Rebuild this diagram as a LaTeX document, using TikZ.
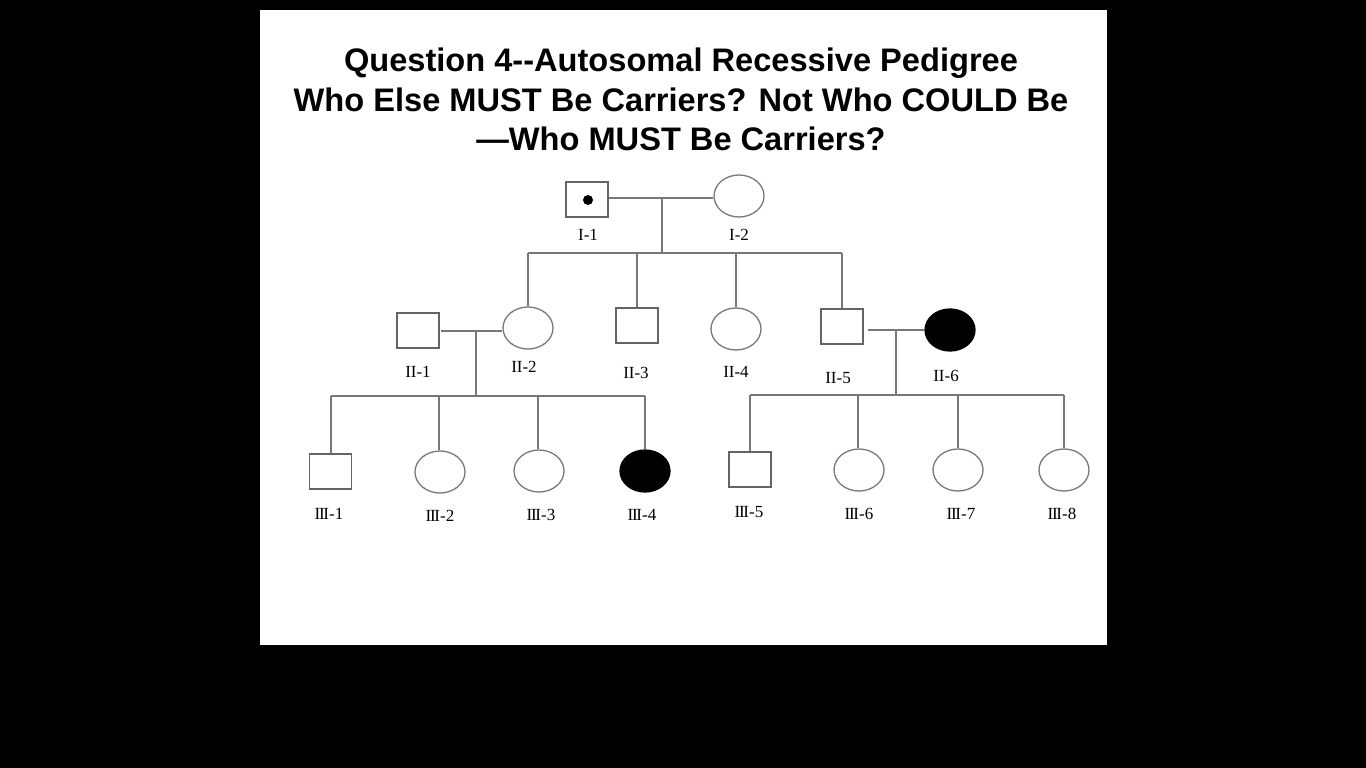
\documentclass[tikz,border=0pt]{standalone}
\usepackage{fontspec}
\setmainfont{Liberation Serif}
\newfontfamily\titlefont{Liberation Sans}
\usetikzlibrary{shapes.geometric}
\definecolor{ln}{RGB}{120,120,120}
\definecolor{sq}{RGB}{100,100,100}
\newcommand{\tri}{I\kern-1.3ptI\kern-1.3ptI}
\tikzset{
  male/.style={draw=sq, line width=1.3pt, rectangle, minimum width=42pt, minimum height=35pt, inner sep=0pt, fill=white},
  female/.style={draw=ln, line width=1.3pt, ellipse, minimum width=50pt, minimum height=42pt, inner sep=0pt, fill=white},
  affected/.style={fill=black, draw=black},
  lbl/.style={font=\fontsize{17}{20}\selectfont, inner sep=0pt},
  conn/.style={draw=ln, line width=1.5pt},
  ttl/.style={font=\titlefont\bfseries\fontsize{32.6}{39}\selectfont, align=center, inner sep=0pt, anchor=base}
}
\begin{document}
\begin{tikzpicture}[x=1pt,y=-1pt]
\useasboundingbox (0,0) rectangle (1366,768);
\fill[black] (0,0) rectangle (1366,768);
\fill[white] (260,10) rectangle (1107,645);
% title
\node[ttl] (t1) at (681,72) {Question 4--Autosomal Recessive Pedigree};
\node[ttl] (t2) at (681,111) {Who Else MUST Be Carriers? Not Who COULD Be};
\node[ttl] (t3) at (681,150) {—Who MUST Be Carriers?};
% generation I
\node[male] (I1) at (587,199.5) {};
\node[circle, fill=black, minimum size=10pt, inner sep=0pt] (I1dot) at (588,200) {};
\node[female] (I2) at (739,196) {};
\node[lbl] (lI1) at (588,235) {I-1};
\node[lbl] (lI2) at (739,235) {I-2};
% generation II
\node[male] (II1) at (418,330.5) {};
\node[female] (II2) at (528,328) {};
\node[male] (II3) at (637,325.5) {};
\node[female] (II4) at (736,329) {};
\node[male] (II5) at (842,326.5) {};
\node[female, affected] (II6) at (950,330) {};
\node[lbl] (lII1) at (418,372) {II-1};
\node[lbl] (lII2) at (524,367) {II-2};
\node[lbl] (lII3) at (636,373) {II-3};
\node[lbl] (lII4) at (736,372) {II-4};
\node[lbl] (lII5) at (838,378) {II-5};
\node[lbl] (lII6) at (946,376) {II-6};
% generation III
\node[male] (III1) at (330.5,471.5) {};
\node[female] (III2) at (440,472) {};
\node[female] (III3) at (539,471) {};
\node[female, affected] (III4) at (645,471) {};
\node[male] (III5) at (750,469.5) {};
\node[female] (III6) at (859,470) {};
\node[female] (III7) at (958,470) {};
\node[female] (III8) at (1064,470) {};
\node[lbl] (lIII1) at (329,514) {\tri-1};
\node[lbl] (lIII2) at (440,516) {\tri-2};
\node[lbl] (lIII3) at (541,515) {\tri-3};
\node[lbl] (lIII4) at (642,515) {\tri-4};
\node[lbl] (lIII5) at (749,512) {\tri-5};
\node[lbl] (lIII6) at (859,514) {\tri-6};
\node[lbl] (lIII7) at (961,514) {\tri-7};
\node[lbl] (lIII8) at (1062,514) {\tri-8};
% junction coordinates
\coordinate (m1) at (662,198);
\coordinate (s1) at (662,253);
\coordinate (s1l) at (528,253);
\coordinate (s1a) at (637,253);
\coordinate (s1b) at (736,253);
\coordinate (s1r) at (842,253);
\coordinate (m2l) at (441,331);
\coordinate (m2) at (476,331);
\coordinate (s2) at (476,396);
\coordinate (s2l) at (331,396);
\coordinate (s2a) at (439,396);
\coordinate (s2b) at (538,396);
\coordinate (s2r) at (645,396);
\coordinate (m3l) at (868,330);
\coordinate (m3) at (896,330);
\coordinate (s3) at (896,395);
\coordinate (s3l) at (750,395);
\coordinate (s3a) at (858,395);
\coordinate (s3b) at (958,395);
\coordinate (s3r) at (1064,395);
% connectors generation I
\draw[conn] (I1.east |- m1) -- (I2.west |- m1);
\draw[conn] (m1) -- (s1);
\draw[conn] (s1l) -- (s1r);
\draw[conn] (s1l) -- (II2.north);
\draw[conn] (s1a) -- (II3.north);
\draw[conn] (s1b) -- (II4.north);
\draw[conn] (s1r) -- (II5.north);
% connectors II-1 x II-2
\draw[conn] (m2l) -- (II2.west |- m2l);
\draw[conn] (m2) -- (s2);
\draw[conn] (s2l) -- (s2r);
\draw[conn] (s2l) -- (III1.north -| s2l);
\draw[conn] (s2a) -- (III2.north -| s2a);
\draw[conn] (s2b) -- (III3.north -| s2b);
\draw[conn] (s2r) -- (III4.north -| s2r);
% connectors II-5 x II-6
\draw[conn] (m3l) -- (II6.west |- m3l);
\draw[conn] (m3) -- (s3);
\draw[conn] (s3l) -- (s3r);
\draw[conn] (s3l) -- (III5.north -| s3l);
\draw[conn] (s3a) -- (III6.north -| s3a);
\draw[conn] (s3b) -- (III7.north -| s3b);
\draw[conn] (s3r) -- (III8.north -| s3r);
\end{tikzpicture}
\end{document}
